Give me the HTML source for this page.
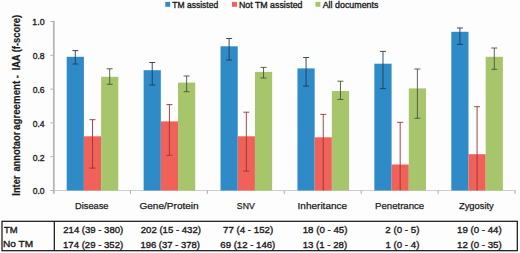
<!DOCTYPE html>
<html><head><meta charset="utf-8"><style>
html,body{margin:0;padding:0;background:#fdfdfd;overflow:hidden;}
svg{display:block;}
.t{font-family:"Liberation Sans",sans-serif;font-size:10px;fill:#1a1a1a;stroke:#1a1a1a;stroke-width:0.35px;}
.yl{font-size:9px;}
.lg{font-size:9.2px;}
.ct{font-size:9.6px;stroke-width:0.25px;}
.tb{font-size:9.2px;}
.b{font-family:"Liberation Sans",sans-serif;font-size:10px;font-weight:bold;fill:#1a1a1a;stroke:#1a1a1a;stroke-width:0.2px;}
</style></head><body>
<svg width="520" height="253" viewBox="0 0 520 253">
<rect width="520" height="253" fill="#fdfdfd"/>
<line x1="51" y1="190.5" x2="515.5" y2="190.5" stroke="#cdcdcd" stroke-width="1"/>
<line x1="53.8" y1="20.8" x2="53.8" y2="193.8" stroke="#b4b4b4" stroke-width="1.7"/>
<line x1="50.3" y1="190.50" x2="53.5" y2="190.50" stroke="#b4b4b4" stroke-width="1"/>
<line x1="50.3" y1="156.70" x2="53.5" y2="156.70" stroke="#b4b4b4" stroke-width="1"/>
<line x1="50.3" y1="122.90" x2="53.5" y2="122.90" stroke="#b4b4b4" stroke-width="1"/>
<line x1="50.3" y1="89.10" x2="53.5" y2="89.10" stroke="#b4b4b4" stroke-width="1"/>
<line x1="50.3" y1="55.30" x2="53.5" y2="55.30" stroke="#b4b4b4" stroke-width="1"/>
<line x1="50.3" y1="21.50" x2="53.5" y2="21.50" stroke="#b4b4b4" stroke-width="1"/>
<line x1="130.42" y1="190.5" x2="130.42" y2="193.8" stroke="#a8a8a8" stroke-width="1"/>
<line x1="207.34" y1="190.5" x2="207.34" y2="193.8" stroke="#a8a8a8" stroke-width="1"/>
<line x1="284.26" y1="190.5" x2="284.26" y2="193.8" stroke="#a8a8a8" stroke-width="1"/>
<line x1="361.18" y1="190.5" x2="361.18" y2="193.8" stroke="#a8a8a8" stroke-width="1"/>
<line x1="438.10" y1="190.5" x2="438.10" y2="193.8" stroke="#a8a8a8" stroke-width="1"/>
<line x1="515.02" y1="190.5" x2="515.02" y2="193.8" stroke="#a8a8a8" stroke-width="1"/>
<rect x="66.70" y="56.80" width="17.20" height="133.70" fill="#2f8bc7"/>
<rect x="83.90" y="136.30" width="17.20" height="54.20" fill="#ef6159"/>
<rect x="101.10" y="76.80" width="17.20" height="113.70" fill="#a7c66c"/>
<line x1="75.30" y1="50.60" x2="75.30" y2="64.00" stroke="#263a4e" stroke-width="0.9"/>
<line x1="72.30" y1="50.60" x2="78.30" y2="50.60" stroke="#263a4e" stroke-width="0.9"/>
<line x1="72.30" y1="64.00" x2="78.30" y2="64.00" stroke="#263a4e" stroke-width="0.9"/>
<line x1="92.50" y1="119.70" x2="92.50" y2="168.10" stroke="#963630" stroke-width="0.9"/>
<line x1="89.50" y1="119.70" x2="95.50" y2="119.70" stroke="#963630" stroke-width="0.9"/>
<line x1="89.50" y1="168.10" x2="95.50" y2="168.10" stroke="#963630" stroke-width="0.9"/>
<line x1="109.70" y1="68.80" x2="109.70" y2="84.30" stroke="#48533c" stroke-width="0.9"/>
<line x1="106.70" y1="68.80" x2="112.70" y2="68.80" stroke="#48533c" stroke-width="0.9"/>
<line x1="106.70" y1="84.30" x2="112.70" y2="84.30" stroke="#48533c" stroke-width="0.9"/>
<rect x="143.62" y="70.20" width="17.20" height="120.30" fill="#2f8bc7"/>
<rect x="160.82" y="121.40" width="17.20" height="69.10" fill="#ef6159"/>
<rect x="178.02" y="82.60" width="17.20" height="107.90" fill="#a7c66c"/>
<line x1="152.22" y1="62.50" x2="152.22" y2="85.00" stroke="#263a4e" stroke-width="0.9"/>
<line x1="149.22" y1="62.50" x2="155.22" y2="62.50" stroke="#263a4e" stroke-width="0.9"/>
<line x1="149.22" y1="85.00" x2="155.22" y2="85.00" stroke="#263a4e" stroke-width="0.9"/>
<line x1="169.42" y1="104.60" x2="169.42" y2="155.30" stroke="#963630" stroke-width="0.9"/>
<line x1="166.42" y1="104.60" x2="172.42" y2="104.60" stroke="#963630" stroke-width="0.9"/>
<line x1="166.42" y1="155.30" x2="172.42" y2="155.30" stroke="#963630" stroke-width="0.9"/>
<line x1="186.62" y1="76.00" x2="186.62" y2="91.70" stroke="#48533c" stroke-width="0.9"/>
<line x1="183.62" y1="76.00" x2="189.62" y2="76.00" stroke="#48533c" stroke-width="0.9"/>
<line x1="183.62" y1="91.70" x2="189.62" y2="91.70" stroke="#48533c" stroke-width="0.9"/>
<rect x="220.54" y="46.30" width="17.20" height="144.20" fill="#2f8bc7"/>
<rect x="237.74" y="136.30" width="17.20" height="54.20" fill="#ef6159"/>
<rect x="254.94" y="71.90" width="17.20" height="118.60" fill="#a7c66c"/>
<line x1="229.14" y1="38.50" x2="229.14" y2="60.00" stroke="#263a4e" stroke-width="0.9"/>
<line x1="226.14" y1="38.50" x2="232.14" y2="38.50" stroke="#263a4e" stroke-width="0.9"/>
<line x1="226.14" y1="60.00" x2="232.14" y2="60.00" stroke="#263a4e" stroke-width="0.9"/>
<line x1="246.34" y1="112.20" x2="246.34" y2="171.10" stroke="#963630" stroke-width="0.9"/>
<line x1="243.34" y1="112.20" x2="249.34" y2="112.20" stroke="#963630" stroke-width="0.9"/>
<line x1="243.34" y1="171.10" x2="249.34" y2="171.10" stroke="#963630" stroke-width="0.9"/>
<line x1="263.54" y1="67.40" x2="263.54" y2="78.00" stroke="#48533c" stroke-width="0.9"/>
<line x1="260.54" y1="67.40" x2="266.54" y2="67.40" stroke="#48533c" stroke-width="0.9"/>
<line x1="260.54" y1="78.00" x2="266.54" y2="78.00" stroke="#48533c" stroke-width="0.9"/>
<rect x="297.46" y="68.40" width="17.20" height="122.10" fill="#2f8bc7"/>
<rect x="314.66" y="137.30" width="17.20" height="53.20" fill="#ef6159"/>
<rect x="331.86" y="91.00" width="17.20" height="99.50" fill="#a7c66c"/>
<line x1="306.06" y1="57.50" x2="306.06" y2="86.10" stroke="#263a4e" stroke-width="0.9"/>
<line x1="303.06" y1="57.50" x2="309.06" y2="57.50" stroke="#263a4e" stroke-width="0.9"/>
<line x1="303.06" y1="86.10" x2="309.06" y2="86.10" stroke="#263a4e" stroke-width="0.9"/>
<line x1="323.26" y1="114.40" x2="323.26" y2="190.50" stroke="#963630" stroke-width="0.9"/>
<line x1="320.26" y1="114.40" x2="326.26" y2="114.40" stroke="#963630" stroke-width="0.9"/>
<line x1="340.46" y1="81.20" x2="340.46" y2="99.40" stroke="#48533c" stroke-width="0.9"/>
<line x1="337.46" y1="81.20" x2="343.46" y2="81.20" stroke="#48533c" stroke-width="0.9"/>
<line x1="337.46" y1="99.40" x2="343.46" y2="99.40" stroke="#48533c" stroke-width="0.9"/>
<rect x="374.38" y="63.70" width="17.20" height="126.80" fill="#2f8bc7"/>
<rect x="391.58" y="164.50" width="17.20" height="26.00" fill="#ef6159"/>
<rect x="408.78" y="88.40" width="17.20" height="102.10" fill="#a7c66c"/>
<line x1="382.98" y1="51.40" x2="382.98" y2="88.60" stroke="#263a4e" stroke-width="0.9"/>
<line x1="379.98" y1="51.40" x2="385.98" y2="51.40" stroke="#263a4e" stroke-width="0.9"/>
<line x1="379.98" y1="88.60" x2="385.98" y2="88.60" stroke="#263a4e" stroke-width="0.9"/>
<line x1="400.18" y1="122.30" x2="400.18" y2="190.50" stroke="#963630" stroke-width="0.9"/>
<line x1="397.18" y1="122.30" x2="403.18" y2="122.30" stroke="#963630" stroke-width="0.9"/>
<line x1="417.38" y1="69.00" x2="417.38" y2="118.30" stroke="#48533c" stroke-width="0.9"/>
<line x1="414.38" y1="69.00" x2="420.38" y2="69.00" stroke="#48533c" stroke-width="0.9"/>
<line x1="414.38" y1="118.30" x2="420.38" y2="118.30" stroke="#48533c" stroke-width="0.9"/>
<rect x="451.30" y="31.80" width="17.20" height="158.70" fill="#2f8bc7"/>
<rect x="468.50" y="154.20" width="17.20" height="36.30" fill="#ef6159"/>
<rect x="485.70" y="56.80" width="17.20" height="133.70" fill="#a7c66c"/>
<line x1="459.90" y1="28.00" x2="459.90" y2="44.40" stroke="#263a4e" stroke-width="0.9"/>
<line x1="456.90" y1="28.00" x2="462.90" y2="28.00" stroke="#263a4e" stroke-width="0.9"/>
<line x1="456.90" y1="44.40" x2="462.90" y2="44.40" stroke="#263a4e" stroke-width="0.9"/>
<line x1="477.10" y1="106.70" x2="477.10" y2="190.50" stroke="#963630" stroke-width="0.9"/>
<line x1="474.10" y1="106.70" x2="480.10" y2="106.70" stroke="#963630" stroke-width="0.9"/>
<line x1="494.30" y1="48.00" x2="494.30" y2="69.30" stroke="#48533c" stroke-width="0.9"/>
<line x1="491.30" y1="48.00" x2="497.30" y2="48.00" stroke="#48533c" stroke-width="0.9"/>
<line x1="491.30" y1="69.30" x2="497.30" y2="69.30" stroke="#48533c" stroke-width="0.9"/>
<text x="172.33" y="7.60" class="t lg" textLength="45.88" lengthAdjust="spacingAndGlyphs">TM assisted</text>
<text x="238.89" y="7.60" class="t lg" textLength="63.59" lengthAdjust="spacingAndGlyphs">Not TM assisted</text>
<text x="322.70" y="7.60" class="t lg" textLength="55.76" lengthAdjust="spacingAndGlyphs">All documents</text>
<text x="32.66" y="194.30" class="t yl" textLength="11.89" lengthAdjust="spacingAndGlyphs">0.0</text>
<text x="32.66" y="160.50" class="t yl" textLength="11.98" lengthAdjust="spacingAndGlyphs">0.2</text>
<text x="32.66" y="126.70" class="t yl" textLength="11.80" lengthAdjust="spacingAndGlyphs">0.4</text>
<text x="32.66" y="92.90" class="t yl" textLength="11.89" lengthAdjust="spacingAndGlyphs">0.6</text>
<text x="32.66" y="59.10" class="t yl" textLength="11.89" lengthAdjust="spacingAndGlyphs">0.8</text>
<text x="32.29" y="25.30" class="t yl" textLength="12.26" lengthAdjust="spacingAndGlyphs">1.0</text>
<text x="75.06" y="208.50" class="t ct" textLength="33.44" lengthAdjust="spacingAndGlyphs">Disease</text>
<text x="139.40" y="208.50" class="t ct" textLength="59.33" lengthAdjust="spacingAndGlyphs">Gene/Protein</text>
<text x="236.87" y="208.50" class="t ct" textLength="17.89" lengthAdjust="spacingAndGlyphs">SNV</text>
<text x="297.60" y="208.50" class="t ct" textLength="49.48" lengthAdjust="spacingAndGlyphs">Inheritance</text>
<text x="375.03" y="208.50" class="t ct" textLength="49.20" lengthAdjust="spacingAndGlyphs">Penetrance</text>
<text x="458.92" y="208.50" class="t ct" textLength="34.91" lengthAdjust="spacingAndGlyphs">Zygosity</text>
<text x="4.01" y="232.90" class="t tb" textLength="13.58" lengthAdjust="spacingAndGlyphs">TM</text>
<text x="63.32" y="233.30" class="t tb" textLength="59.87" lengthAdjust="spacingAndGlyphs">214 (39 - 380)</text>
<text x="140.72" y="233.30" class="t tb" textLength="60.27" lengthAdjust="spacingAndGlyphs">202 (15 - 432)</text>
<text x="223.01" y="233.30" class="t tb" textLength="50.27" lengthAdjust="spacingAndGlyphs">77 (4 - 152)</text>
<text x="302.72" y="233.30" class="t tb" textLength="44.79" lengthAdjust="spacingAndGlyphs">18 (0 - 45)</text>
<text x="385.31" y="233.30" class="t tb" textLength="34.08" lengthAdjust="spacingAndGlyphs">2 (0 - 5)</text>
<text x="457.03" y="233.30" class="t tb" textLength="44.69" lengthAdjust="spacingAndGlyphs">19 (0 - 44)</text>
<text x="3.09" y="247.30" class="t tb" textLength="30.03" lengthAdjust="spacingAndGlyphs">No TM</text>
<text x="63.03" y="247.60" class="t tb" textLength="60.16" lengthAdjust="spacingAndGlyphs">174 (29 - 352)</text>
<text x="140.44" y="247.60" class="t tb" textLength="59.44" lengthAdjust="spacingAndGlyphs">196 (37 - 378)</text>
<text x="220.32" y="247.60" class="t tb" textLength="55.01" lengthAdjust="spacingAndGlyphs">69 (12 - 146)</text>
<text x="302.73" y="247.60" class="t tb" textLength="44.48" lengthAdjust="spacingAndGlyphs">13 (1 - 28)</text>
<text x="385.42" y="247.60" class="t tb" textLength="33.97" lengthAdjust="spacingAndGlyphs">1 (0 - 4)</text>
<text x="457.03" y="247.60" class="t tb" textLength="44.69" lengthAdjust="spacingAndGlyphs">12 (0 - 35)</text>
<text transform="translate(19.7,195.65) rotate(-90)" class="b" textLength="20.11" lengthAdjust="spacingAndGlyphs">Inter</text>
<text transform="translate(19.7,171.58) rotate(-90)" class="b" textLength="39.85" lengthAdjust="spacingAndGlyphs">annotaor</text>
<text transform="translate(19.7,129.89) rotate(-90)" class="b" textLength="49.07" lengthAdjust="spacingAndGlyphs">agreement</text>
<text transform="translate(19.7,78.27) rotate(-90)" class="b" textLength="3.06" lengthAdjust="spacingAndGlyphs">-</text>
<text transform="translate(19.7,70.34) rotate(-90)" class="b" textLength="15.84" lengthAdjust="spacingAndGlyphs">IAA</text>
<text transform="translate(19.7,52.37) rotate(-90)" class="b" textLength="37.54" lengthAdjust="spacingAndGlyphs">(f-score)</text>
<rect x="165.3" y="1.9" width="4.9" height="4.9" fill="#2f8bc7"/>
<rect x="232" y="1.9" width="4.9" height="4.9" fill="#ef6159"/>
<rect x="315.5" y="1.9" width="4.9" height="4.9" fill="#a7c66c"/>
<rect x="2" y="221.3" width="515.3" height="29.4" fill="none" stroke="#111" stroke-width="1.2"/>
<line x1="54.3" y1="221.3" x2="54.3" y2="250.7" stroke="#111" stroke-width="1.2"/>
</svg>
</body></html>
